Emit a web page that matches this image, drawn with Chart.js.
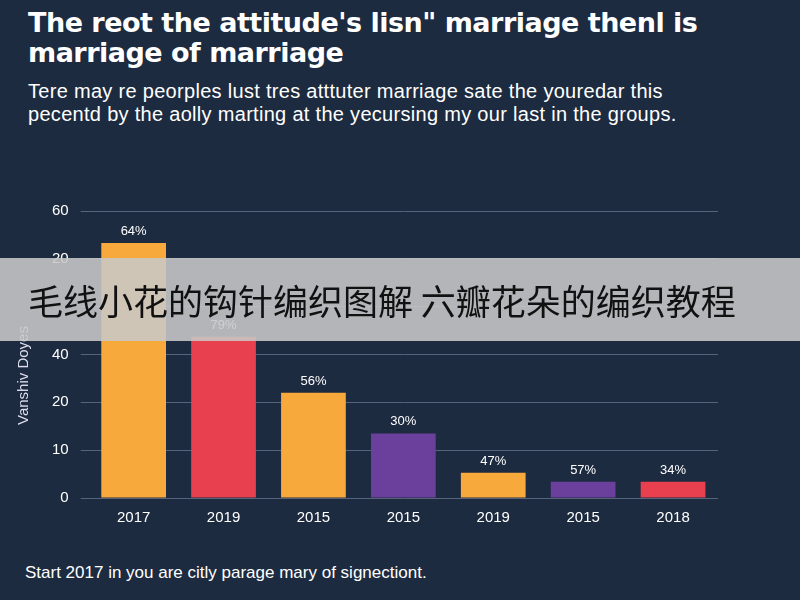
<!DOCTYPE html>
<html>
<head>
<meta charset="utf-8">
<script src="https://cdn.jsdelivr.net/npm/chart.js@4/dist/chart.umd.min.js"></script>
<style>
  body { margin: 0; width: 800px; height: 600px; background: #1d2b40; overflow: hidden; position: relative; font-family: "Liberation Sans", Arial, sans-serif; color: #fff; }
  #title { position: absolute; left: 28px; top: 8px; font-size: 27px; font-weight: bold; line-height: 30px; font-family: "DejaVu Sans", sans-serif; letter-spacing: -0.5px; }
  #sub { position: absolute; left: 28px; top: 80px; font-size: 20px; line-height: 23px; letter-spacing: 0.3px; }
  #wrap { position: absolute; left: 0; top: 190px; width: 718px; height: 340px; }
  #ytitle { position: absolute; left: 14px; top: 425px; transform: rotate(-90deg); transform-origin: left top; font-size: 15px; color: #dde; }
  #foot { position: absolute; left: 25px; top: 563px; font-size: 17px; }
  #banner { position: absolute; left: 0; top: 258px; width: 800px; height: 83px; background: rgba(200,200,200,0.88); color: #111; font-family: "Noto Sans CJK SC", sans-serif; font-size: 35px; line-height: 83px; padding-left: 28px; box-sizing: border-box; white-space: nowrap; }
</style>
</head>
<body>
<div id="title">The reot the attitude's lisn" marriage thenl is<br>marriage of marriage</div>
<div id="sub">Tere may re peorples lust tres atttuter marriage sate the youredar this<br>pecentd by the aolly marting at the yecursing my our last in the groups.</div>
<div id="wrap"><canvas id="c"></canvas></div>
<div id="ytitle">Vanshiv Doyes</div>
<div id="foot">Start 2017 in you are citly parage mary of signectiont.</div>
<div id="banner">毛线小花的钩针编织图解 六瓣花朵的编织教程</div>
<script>
const categories = ['2017', '2019', '2015', '2015', '2019', '2015', '2018'];
const values = [53.3, 33.7, 22, 13.5, 5.3, 3.4, 3.4];
const valueLabels = ['64%', '79%', '56%', '30%', '47%', '57%', '34%'];
const barColors = ['#f7a93b', '#e8404f', '#f7a93b', '#6b3f9c', '#f7a93b', '#6b3f9c', '#e8404f'];
const tickLabels = ['0', '10', '20', '40', '', '20', '60'];

const labelPlugin = {
  id: 'valueLabels',
  afterDatasetsDraw(chart) {
    const ctx = chart.ctx;
    ctx.save();
    ctx.fillStyle = '#fff';
    ctx.font = '13px "Liberation Sans", Arial, sans-serif';
    ctx.textAlign = 'center';
    chart.getDatasetMeta(0).data.forEach((bar, i) => {
      ctx.fillText(valueLabels[i], bar.x, bar.y - 8);
    });
    ctx.restore();
  }
};

new Chart(document.getElementById('c'), {
  type: 'bar',
  data: {
    labels: categories,
    datasets: [{ data: values, backgroundColor: barColors, barPercentage: 0.72, categoryPercentage: 1 }]
  },
  options: {
    responsive: true,
    maintainAspectRatio: false,
    animation: false,
    layout: { padding: { left: 40, top: 10 } },
    plugins: { legend: { display: false }, tooltip: { enabled: false } },
    scales: {
      x: {
        grid: { display: false },
        border: { display: false },
        ticks: { color: '#fff', font: { size: 15 } }
      },
      y: {
        min: 0, max: 60,
        grid: { color: '#56637a' },
        border: { display: false },
        ticks: { stepSize: 10, color: '#fff', font: { size: 15 }, padding: 12,
          callback: (v, i) => tickLabels[i] }
      }
    }
  },
  plugins: [labelPlugin]
});
</script>
</body>
</html>
